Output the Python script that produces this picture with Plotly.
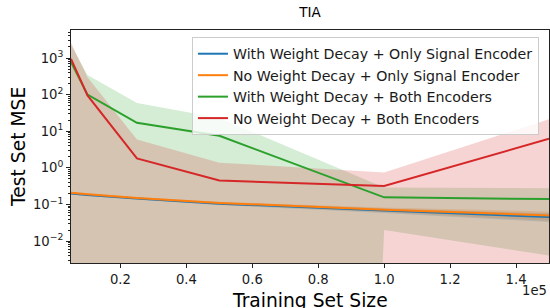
import numpy as np
import plotly.graph_objects as go

# ---- data ----
train_sizes = [5000, 10000, 25000, 50000, 100000, 150000]

series_names = [
    "With Weight Decay + Only Signal Encoder",
    "No Weight Decay + Only Signal Encoder",
    "With Weight Decay + Both Encoders",
    "No Weight Decay + Both Encoders",
]
series_colors = ["#1f77b4", "#ff7f0e", "#2ca02c", "#d62728"]
fill_colors = ["rgba(31,119,180,0.2)", "rgba(255,127,14,0.2)",
               "rgba(44,160,44,0.2)", "rgba(214,39,40,0.2)"]

wd_signal_mean = [0.20, 0.18, 0.145, 0.105, 0.068, 0.045]
wd_signal_std = [0.012, 0.011, 0.010, 0.009, 0.010, 0.012]
nowd_signal_mean = [0.21, 0.19, 0.15, 0.11, 0.072, 0.050]
nowd_signal_std = [0.012, 0.011, 0.010, 0.009, 0.010, 0.014]
wd_both_mean = [780, 100, 17, 7.5, 0.156, 0.14]
wd_both_std = [1500, 245, 42, 15.5, 0.136, 0.136]
nowd_both_mean = [950, 95, 1.8, 0.45, 0.32, 6.2]
nowd_both_std = [1650, 205, 4.1, 0.93, 0.43, 15.0]

means = [wd_signal_mean, nowd_signal_mean, wd_both_mean, nowd_both_mean]
stds = [wd_signal_std, nowd_signal_std, wd_both_std, nowd_both_std]

x_tick_vals = [20000, 40000, 60000, 80000, 100000, 120000, 140000]
x_tick_text = ["0.2", "0.4", "0.6", "0.8", "1.0", "1.2", "1.4"]

y_tick_vals = [0.01, 0.1, 1, 10, 100, 1000]
y_tick_text = ["10<sup>\u22122</sup>", "10<sup>\u22121</sup>", "10<sup>0</sup>",
               "10<sup>1</sup>", "10<sup>2</sup>", "10<sup>3</sup>"]

FLOOR = 1e-100  # nonpositive bounds fall off the bottom of the log axis

fig = go.Figure()

# shaded bands (mean ± std)
for name, m, s, fc in zip(series_names, means, stds, fill_colors):
    m = np.array(m, dtype=float)
    s = np.array(s, dtype=float)
    lo = np.maximum(m - s, FLOOR)
    hi = m + s
    fig.add_trace(go.Scatter(x=train_sizes, y=lo, mode="lines",
                             line=dict(width=0, color=fc),
                             showlegend=False, hoverinfo="skip"))
    fig.add_trace(go.Scatter(x=train_sizes, y=hi, mode="lines",
                             line=dict(width=0, color=fc), fill="tonexty",
                             fillcolor=fc, showlegend=False, hoverinfo="skip"))

# mean lines
for name, m, c in zip(series_names, means, series_colors):
    fig.add_trace(go.Scatter(x=train_sizes, y=m, mode="lines", name=name,
                             line=dict(color=c, width=2)))

minor_y = [k * 10.0 ** e for e in range(-3, 4) for k in range(2, 10)]

FONT = "DejaVu Sans"
fig.update_layout(
    width=550, height=308,
    margin=dict(l=71, r=1, t=30, b=45),
    paper_bgcolor="white", plot_bgcolor="white",
    font=dict(family=FONT, size=13, color="black"),
    title=dict(text="TIA", xref="paper", x=0.5, xanchor="center",
               yref="container", y=0.961, yanchor="middle",
               font=dict(family=FONT, size=13.5, color="black")),
    legend=dict(x=0.979, y=0.97, xanchor="right", yanchor="top",
                traceorder="normal",
                bgcolor="rgba(255,255,255,0.8)", bordercolor="#cccccc",
                borderwidth=1, font=dict(family=FONT, size=14.2, color="#1a1a1a"),
                tracegroupgap=0),
    showlegend=True,
)

fig.update_xaxes(
    range=[5000, 150000], showgrid=False, zeroline=False,
    showline=True, linecolor="#222222", linewidth=1, mirror=True,
    ticks="outside", ticklen=4, tickcolor="#222222",
    tickvals=x_tick_vals, ticktext=x_tick_text,
    tickfont=dict(family=FONT, size=13.2, color="#1a1a1a"),
)
fig.update_yaxes(
    type="log", range=[-2.60, 3.765], showgrid=False, zeroline=False,
    showline=True, linecolor="#222222", linewidth=1, mirror=True,
    ticks="outside", ticklen=4, tickcolor="#222222",
    tickvals=y_tick_vals, ticktext=y_tick_text,
    tickfont=dict(family=FONT, size=13.2, color="#1a1a1a"),
    minor=dict(tickvals=minor_y, ticks="outside", ticklen=2,
               tickcolor="#222222", showgrid=False),
)

# axis titles and offset text placed like the reference
fig.add_annotation(text="Training Set Size", xref="paper", yref="paper",
                   x=0.5, y=-0.159, xanchor="center", yanchor="middle",
                   showarrow=False, font=dict(family=FONT, size=18.7, color="black"))
fig.add_annotation(text="Test Set MSE", xref="paper", yref="paper",
                   x=-0.110, y=0.5, xanchor="center", yanchor="middle",
                   textangle=-90, showarrow=False,
                   font=dict(family=FONT, size=18.7, color="black"))
fig.add_annotation(text="1e5", xref="paper", yref="paper", x=1.0, y=-0.12,
                   xanchor="right", yanchor="middle", showarrow=False,
                   font=dict(family=FONT, size=13.2, color="#1a1a1a"))

fig.write_html("out.html", config={"displayModeBar": False})

# remove the default page margin so the figure sits at the window's corner
with open("out.html", "r", encoding="utf-8") as f:
    html = f.read()
html = html.replace("<head>", "<head><style>html,body{margin:0;padding:0;}</style>", 1)
with open("out.html", "w", encoding="utf-8") as f:
    f.write(html)
